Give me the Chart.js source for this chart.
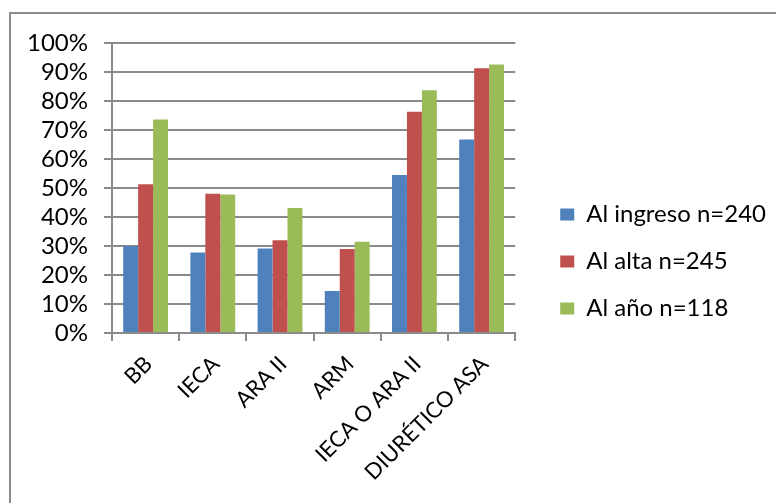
<!DOCTYPE html>
<html>
<head>
<meta charset="utf-8">
<script src="https://cdn.jsdelivr.net/npm/chart.js@4/dist/chart.umd.min.js"></script>
<style>
  html, body { margin: 0; padding: 0; background: #fff; }
  #wrap { position: relative; width: 776px; height: 503px; overflow: hidden; }
  #frame { position: absolute; left: 9px; top: 12px; width: 800px; height: 520px;
           border: 2px solid #8c8c8c; box-sizing: border-box; }
  #chart { position: absolute; left: 0; top: 0; }
</style>
</head>
<body>
<div id="wrap">
  <div id="frame"></div>
  <canvas id="chart" width="776" height="503"></canvas>
</div>
<script>
// Treatment groups on the category axis
const categories = ['BB', 'IECA', 'ARA II', 'ARM', 'IECA O ARA II', 'DIURÉTICO ASA'];

// Percentage of patients with each treatment
const ingreso = [30.0, 27.8, 29.1, 14.5, 54.5, 66.7];
const alta    = [51.3, 48.0, 32.0, 29.0, 76.3, 91.3];
const anio    = [73.6, 47.8, 43.1, 31.5, 83.7, 92.6];

const seriesNames = ['Al ingreso n=240', 'Al alta n=245', 'Al año n=118'];
const yTicks = [0, 10, 20, 30, 40, 50, 60, 70, 80, 90, 100];

const FONT = "Lato, 'Open Sans', sans-serif";
const GRID = '#8a8a8a';

const colors = ['#4F81BD', '#C0504D', '#9BBB59'];
const values = [ingreso, alta, anio];

new Chart(document.getElementById('chart'), {
  type: 'bar',
  data: {
    labels: categories,
    datasets: values.map((v, i) => ({
      label: seriesNames[i],
      data: v,
      backgroundColor: colors[i],
      borderWidth: 0,
      categoryPercentage: 0.667,
      barPercentage: 1.0
    }))
  },
  options: {
    responsive: false,
    animation: false,
    devicePixelRatio: 1,
    layout: { padding: { left: 0, top: 43, right: 0, bottom: 23 } },
    font: { family: FONT },
    scales: {
      x: {
        offset: true,
        grid: { display: true, drawOnChartArea: false, drawTicks: true, tickLength: 8,
                color: GRID, lineWidth: 2, offset: true },
        border: { display: true, color: GRID, width: 2 },
        ticks: { autoSkip: false, minRotation: 45, maxRotation: 45, padding: 10,
                 labelOffset: 3, color: '#000', font: { family: FONT, size: 22 } },
        afterFit: s => { s.height = 147; }
      },
      y: {
        min: 0, max: 100,
        afterBuildTicks: s => { s.ticks = yTicks.map(v => ({ value: v })); },
        grid: { color: GRID, lineWidth: 2, tickLength: 8, drawTicks: true },
        border: { display: true, color: GRID, width: 2 },
        ticks: { autoSkip: false, padding: 16, color: '#000',
                 font: { family: FONT, size: 24 }, callback: v => v + '%' },
        afterFit: s => { s.width = 112; }
      },
      // empty right-hand strip between the plot and the legend
      gap: {
        type: 'linear', axis: 'y', position: 'right', display: true,
        grid: { display: false }, border: { display: false },
        ticks: { display: false },
        afterFit: s => { s.width = 22; }
      }
    },
    plugins: {
      legend: {
        position: 'right',
        maxWidth: 300,
        labels: { boxWidth: 14, boxHeight: 12, padding: 23, color: '#000',
                  font: { family: FONT, size: 24 } }
      },
      tooltip: { enabled: false }
    }
  }
});
</script>
</body>
</html>
